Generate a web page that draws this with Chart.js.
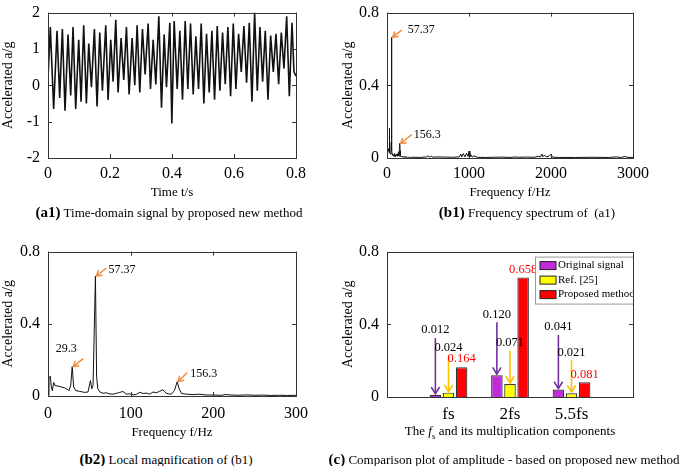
<!DOCTYPE html>
<html>
<head>
<meta charset="utf-8">
<script src="https://cdn.jsdelivr.net/npm/chart.js@4.4.0/dist/chart.umd.min.js"></script>
<style>
  body { margin: 0; width: 685px; height: 466px; position: relative; overflow: hidden; background: #fff; font-family: 'Liberation Serif', serif; }
  canvas { position: absolute; }
  .cap { position: absolute; font-size: 13px; white-space: nowrap; transform: translate(-50%, -50%); color: #000; }
  .cap b { font-size: 15px; }
</style>
</head>
<body>
<canvas id="a1" width="316" height="210" style="left:0;top:-5px"></canvas>
<canvas id="b1" width="315" height="210" style="left:340px;top:-5px"></canvas>
<canvas id="b2" width="316" height="209" style="left:0;top:234px"></canvas>
<canvas id="c" width="313" height="210" style="left:340px;top:234px"></canvas>

<div class="cap" style="left:169px;top:212px"><b>(a1)</b> Time-domain signal by proposed new method</div>
<div class="cap" style="left:527px;top:212px"><b>(b1)</b> Frequency spectrum of &nbsp;(a1)</div>
<div class="cap" style="left:166px;top:459px"><b>(b2)</b> Local magnification of (b1)</div>
<div class="cap" style="left:510px;top:432px">The <i>f</i><sub style="font-size:9px">s</sub> and its multiplication components</div>
<div class="cap" style="left:504px;top:459px"><b>(c)</b> Comparison plot of amplitude - based on proposed new method</div>

<script>
// (a1) time-domain signal, turning points
const timeT = [0, 0.0075, 0.0183, 0.0291, 0.0377, 0.0463, 0.0549, 0.0646, 0.0732, 0.0808,
  0.0894, 0.0991, 0.1066, 0.1152, 0.1238, 0.1314, 0.1400, 0.1497, 0.1583, 0.1669,
  0.1755, 0.1863, 0.1938, 0.2024, 0.2100, 0.2186, 0.2261, 0.2358, 0.2444, 0.2530,
  0.2616, 0.2713, 0.2799, 0.2875, 0.2961, 0.3047, 0.3133, 0.3230, 0.3306, 0.3392,
  0.3478, 0.3575, 0.3661, 0.3747, 0.3822, 0.3930, 0.3995, 0.4070, 0.4167, 0.4253,
  0.4339, 0.4425, 0.4511, 0.4598, 0.4684, 0.4770, 0.4856, 0.4942, 0.5028, 0.5114,
  0.5200, 0.5287, 0.5373, 0.5459, 0.5545, 0.5631, 0.5717, 0.5803, 0.5890, 0.5976,
  0.6062, 0.6148, 0.6234, 0.6320, 0.6406, 0.6493, 0.6579, 0.6665, 0.6751, 0.6837,
  0.6923, 0.7009, 0.7096, 0.7182, 0.7268, 0.7354, 0.7440, 0.7526, 0.7612, 0.7699,
  0.7785, 0.7871, 0.7935, 0.8000];
const timeA = [0.2, 1.6, -0.65, 1.5, -0.35, 1.55, -0.7, 1.4, -0.28, 1.6,
  -0.65, 1.25, -0.45, 1.65, -0.5, 1.15, -0.05, 1.55, -0.58, 1.45,
  -0.15, 1.65, -0.4, 1.25, 0.1, 1.8, -0.2, 1.3, 0.15, 1.6,
  -0.25, 1.3, 0, 1.65, -0.2, 1.55, 0.3, 1.7, -0.1, 1.25,
  0.02, 1.9, -0.62, 1.4, -0.05, 1.72, -1.05, 1.77, -0.1, 1.5,
  -0.4, 1.77, -0.1, 1.7, -0.25, 1.35, -0.1, 1.7, -0.5, 1.42,
  -0.2, 1.5, -0.4, 1.63, -0.15, 1.45, 0.03, 1.6, -0.3, 1.7,
  -0.1, 1.42, 0.37, 1.63, 0.07, 1.72, -0.45, 2.0, -0.15, 1.6,
  0.1, 1.5, -0.4, 1.37, 0.37, 1.42, 0.03, 1.45, 0.46, 1.9,
  -0.3, 1.72, 0.37, 0.25];

// spectrum 0-300 Hz (b2, and the low end of b1)
const specFreq = [0, 1.2, 2.8, 4.0, 5.2, 6.9, 8.5, 12, 16, 20,
  22, 25.4, 27.5, 29.3, 31, 33.5, 38, 44, 48.4, 51.3,
  53, 54.5, 57.37, 58.8, 60.2, 62.6, 66.6, 70.6, 74, 78.7,
  83, 86.8, 90.8, 94.9, 99, 103, 107, 111, 115, 119,
  123, 127, 131, 135, 139, 143, 146, 149, 153, 156.3,
  158.6, 161.5, 167.5, 175.6, 183.7, 190, 200, 210, 215, 220,
  230, 240, 250, 260, 270, 280, 290, 300];
const specAmp = [0.005, 0.10, 0.11, 0.05, 0.03, 0.075, 0.058, 0.055, 0.05, 0.045,
  0.04, 0.03, 0.06, 0.163, 0.05, 0.03, 0.026, 0.02, 0.022, 0.085,
  0.04, 0.058, 0.665, 0.11, 0.04, 0.023, 0.015, 0.018, 0.012, 0.01,
  0.015, 0.02, 0.025, 0.01, 0.012, 0.006, 0.01, 0.02, 0.014, 0.016,
  0.01, 0.022, 0.018, 0.026, 0.035, 0.015, 0.012, 0.01, 0.03, 0.08,
  0.04, 0.014, 0.01, 0.008, 0.01, 0.006, 0.005, 0.004, 0.008, 0.006,
  0.004, 0.006, 0.004, 0.005, 0.003, 0.004, 0.003, 0.004];

// spectrum above 300 Hz (b1 only)
const hiFreq = [330, 400, 480, 500, 520, 540, 560, 600, 700, 800,
  880, 900, 910, 930, 950, 970, 990, 1000, 1010, 1020,
  1040, 1060, 1100, 1200, 1300, 1400, 1500, 1560, 1600, 1700,
  1800, 1850, 1870, 1890, 1900, 1920, 1950, 1980, 2000, 2020,
  2100, 2300, 2500, 2700, 2800, 2850, 2900, 2950, 3000];
const hiAmp = [0.004, 0.003, 0.006, 0.012, 0.005, 0.01, 0.004, 0.006, 0.005, 0.004,
  0.006, 0.022, 0.005, 0.024, 0.006, 0.026, 0.008, 0.038, 0.006, 0.02,
  0.005, 0.012, 0.004, 0.003, 0.004, 0.005, 0.003, 0.006, 0.004, 0.005,
  0.004, 0.01, 0.005, 0.022, 0.008, 0.014, 0.006, 0.012, 0.02, 0.004,
  0.003, 0.003, 0.004, 0.003, 0.006, 0.003, 0.008, 0.003, 0.004];

// labelled peaks
const peakFreq = [29.3, 57.37, 156.3];
const peakAmp = [0.163, 0.665, 0.08];
const peakText = ['29.3', '57.37', '156.3'];

// (c) comparison of amplitudes
const compCats = ['', 'fs', '2fs', '5.5fs', ''];
const seriesNames = ['Original signal', 'Ref. [25]', 'Proposed method'];
const original = [null, 0.012, 0.120, 0.041, null];
const ref25 = [null, 0.024, 0.071, 0.021, null];
const proposed = [null, 0.164, 0.658, 0.081, null];

const FONT = 'Liberation Serif';
const ORANGE = '#f28a3c';

function drawArrow(ctx, x0, y0, x1, y1, head, color, width) {
  const ang = Math.atan2(y1 - y0, x1 - x0);
  ctx.strokeStyle = color;
  ctx.lineWidth = width;
  ctx.beginPath();
  ctx.moveTo(x0, y0);
  ctx.lineTo(x1, y1);
  ctx.stroke();
  ctx.beginPath();
  ctx.moveTo(x1 - head * Math.cos(ang - 0.55), y1 - head * Math.sin(ang - 0.55));
  ctx.lineTo(x1, y1);
  ctx.lineTo(x1 - head * Math.cos(ang + 0.55), y1 - head * Math.sin(ang + 0.55));
  ctx.stroke();
}

// box round the plot + inward tick marks on every side
const framePlugin = {
  id: 'frame',
  afterDatasetsDraw(chart, args, opts) {
    const { ctx, chartArea: a, scales } = chart;
    ctx.save();
    ctx.strokeStyle = '#333';
    ctx.lineWidth = 1;
    ctx.strokeRect(Math.round(a.left) + 0.5, Math.round(a.top) + 0.5, Math.round(a.width), Math.round(a.height));
    ctx.beginPath();
    if (!opts.noXTicks) {
      scales.x.ticks.forEach(t => {
        const px = Math.round(scales.x.getPixelForValue(t.value)) + 0.5;
        ctx.moveTo(px, a.bottom); ctx.lineTo(px, a.bottom - 4);
        ctx.moveTo(px, a.top); ctx.lineTo(px, a.top + 4);
      });
    }
    scales.y.ticks.forEach(t => {
      const py = Math.round(scales.y.getPixelForValue(t.value)) + 0.5;
      ctx.moveTo(a.left, py); ctx.lineTo(a.left + 4, py);
      ctx.moveTo(a.right, py); ctx.lineTo(a.right - 4, py);
    });
    ctx.stroke();
    ctx.restore();
  }
};

// orange arrows on the spectrum peaks
const peakPlugin = {
  id: 'peaks',
  afterDatasetsDraw(chart, args, opts) {
    if (!opts.items) return;
    const { ctx, scales: { x, y } } = chart;
    ctx.save();
    ctx.font = '12px "' + FONT + '"';
    ctx.textBaseline = 'middle';
    opts.items.forEach(it => {
      const px = x.getPixelForValue(peakFreq[it.i]);
      const py = y.getPixelForValue(peakAmp[it.i]);
      drawArrow(ctx, px + it.dx, py + it.dy, px + 1, py, 6, ORANGE, 1.5);
      ctx.fillStyle = '#000';
      ctx.textAlign = it.align;
      ctx.fillText(peakText[it.i], px + it.tx, py + it.ty);
    });
    ctx.restore();
  }
};

function xAxis(min, max, step, title, tickPad, titlePad) {
  return {
    type: 'linear', min, max,
    grid: { display: false, drawTicks: false }, border: { display: false },
    ticks: { stepSize: step, padding: tickPad, maxRotation: 0, color: '#000',
      font: { family: FONT, size: 16 }, callback: v => String(+v.toFixed(3)) },
    title: { display: true, text: title, color: '#000', font: { family: FONT, size: 13 },
      padding: { top: 0, bottom: titlePad } },
    afterFit: s => { s.height = 47; }
  };
}

function yAxis(min, max, step, width) {
  return {
    min, max,
    grid: { display: false, drawTicks: false }, border: { display: false },
    ticks: { stepSize: step, padding: 8, color: '#000', font: { family: FONT, size: 16 },
      callback: v => String(+v.toFixed(3)) },
    title: { display: true, text: 'Accelerated a/g', color: '#000',
      font: { family: FONT, size: 14 }, padding: 0 },
    afterFit: s => { s.width = width; }
  };
}

const basePlugins = { legend: { display: false }, tooltip: { enabled: false } };
const layout = { padding: { top: 10, right: 20, left: 0, bottom: 0 } };

function points(xs, ys) {
  return xs.map((v, i) => ({ x: v, y: ys[i] }));
}

// (a1)
new Chart(document.getElementById('a1'), {
  type: 'line',
  data: { datasets: [{ data: points(timeT, timeA), borderColor: '#111', borderWidth: 1.6, pointRadius: 0, tension: 0 }] },
  options: {
    responsive: false, animation: false, layout,
    scales: { x: xAxis(0, 0.8, 0.2, 'Time t/s', 6, 5), y: yAxis(-2, 2, 1, 48) },
    plugins: basePlugins
  },
  plugins: [framePlugin]
});

// (b1)
new Chart(document.getElementById('b1'), {
  type: 'line',
  data: { datasets: [{ data: points(specFreq.concat(hiFreq), specAmp.concat(hiAmp)), borderColor: '#111', borderWidth: 1, pointRadius: 0, tension: 0 }] },
  options: {
    responsive: false, animation: false, layout,
    scales: { x: xAxis(0, 3000, 1000, 'Frequency f/Hz', 6, 5), y: yAxis(0, 0.8, 0.4, 47) },
    plugins: Object.assign({}, basePlugins, { peaks: { items: [
      { i: 1, dx: 10, dy: -7, tx: 16, ty: -7, align: 'left' },
      { i: 2, dx: 12, dy: -9, tx: 14, ty: -9, align: 'left' }
    ] } })
  },
  plugins: [framePlugin, peakPlugin]
});

// (b2)
new Chart(document.getElementById('b2'), {
  type: 'line',
  data: { datasets: [{ data: points(specFreq, specAmp), borderColor: '#111', borderWidth: 1, pointRadius: 0, tension: 0 }] },
  options: {
    responsive: false, animation: false, layout,
    scales: { x: xAxis(0, 300, 100, 'Frequency f/Hz', 8, 3), y: yAxis(0, 0.8, 0.4, 48) },
    plugins: Object.assign({}, basePlugins, { peaks: { items: [
      { i: 0, dx: 11, dy: -8, tx: -6, ty: -18, align: 'center' },
      { i: 1, dx: 11, dy: -8, tx: 13, ty: -6, align: 'left' },
      { i: 2, dx: 10, dy: -9, tx: 13, ty: -8, align: 'left' }
    ] } })
  },
  plugins: [framePlugin, peakPlugin]
});

// (c) value labels, arrows and legend box
const labelLevel = [[null, 0.368, 0.455, 0.385, null], [null, 0.272, 0.298, 0.246, null]];
const compPlugin = {
  id: 'comp',
  afterDatasetsDraw(chart) {
    const { ctx, chartArea: a, scales: { y } } = chart;
    ctx.save();
    ctx.font = '12.5px "' + FONT + '"';
    ctx.textAlign = 'center';
    ctx.textBaseline = 'middle';
    const arrowCol = ['#7030a0', '#ffc000'];
    [0, 1].forEach(ds => {
      chart.getDatasetMeta(ds).data.forEach((el, j) => {
        const v = chart.data.datasets[ds].data[j];
        if (v == null) return;
        const ly = y.getPixelForValue(labelLevel[ds][j]);
        ctx.fillStyle = '#000';
        ctx.fillText(v.toFixed(3), el.x, ly);
        drawArrow(ctx, el.x, ly + 8, el.x, el.y - 1, 8, arrowCol[ds], 1.6);
      });
    });
    chart.getDatasetMeta(2).data.forEach((el, j) => {
      const v = chart.data.datasets[2].data[j];
      if (v == null) return;
      ctx.fillStyle = '#ff0000';
      ctx.fillText(v.toFixed(3), el.x, el.y - 8);
    });
    // legend, clipped at the right border like the original
    const lx = a.right - 98, ly = a.top + 5;
    ctx.beginPath();
    ctx.rect(a.left, a.top, a.width, a.height);
    ctx.clip();
    ctx.fillStyle = '#fff';
    ctx.fillRect(lx, ly, 98, 47);
    ctx.strokeStyle = '#999';
    ctx.lineWidth = 1;
    ctx.strokeRect(lx + 0.5, ly + 0.5, 98, 47);
    ctx.font = '11px "' + FONT + '"';
    ctx.textAlign = 'left';
    chart.data.datasets.forEach((d, i) => {
      const cy = ly + 9 + i * 14.5;
      ctx.fillStyle = d.backgroundColor;
      ctx.fillRect(lx + 5, cy - 4, 16, 8);
      ctx.strokeStyle = '#222';
      ctx.strokeRect(lx + 5, cy - 4, 16, 8);
      ctx.fillStyle = '#000';
      ctx.fillText(d.label, lx + 23, cy);
    });
    ctx.restore();
  }
};

const barStyle = { borderColor: '#333', borderWidth: 1.2, categoryPercentage: 0.64, barPercentage: 0.88 };
new Chart(document.getElementById('c'), {
  type: 'bar',
  data: {
    labels: compCats,
    datasets: [
      Object.assign({ label: seriesNames[0], data: original, backgroundColor: '#bf2bd8' }, barStyle),
      Object.assign({ label: seriesNames[1], data: ref25, backgroundColor: '#ffff00' }, barStyle),
      Object.assign({ label: seriesNames[2], data: proposed, backgroundColor: '#ff0000' }, barStyle)
    ]
  },
  options: {
    responsive: false, animation: false, layout,
    scales: {
      x: {
        type: 'category', offset: false,
        grid: { display: false, drawTicks: false }, border: { display: false },
        ticks: { padding: 7, autoSkip: false, maxRotation: 0, color: '#000', font: { family: FONT, size: 17 } },
        afterFit: s => { s.height = 47; }
      },
      y: yAxis(0, 0.8, 0.4, 47)
    },
    plugins: Object.assign({}, basePlugins, { frame: { noXTicks: true } })
  },
  plugins: [framePlugin, compPlugin]
});
</script>
</body>
</html>
